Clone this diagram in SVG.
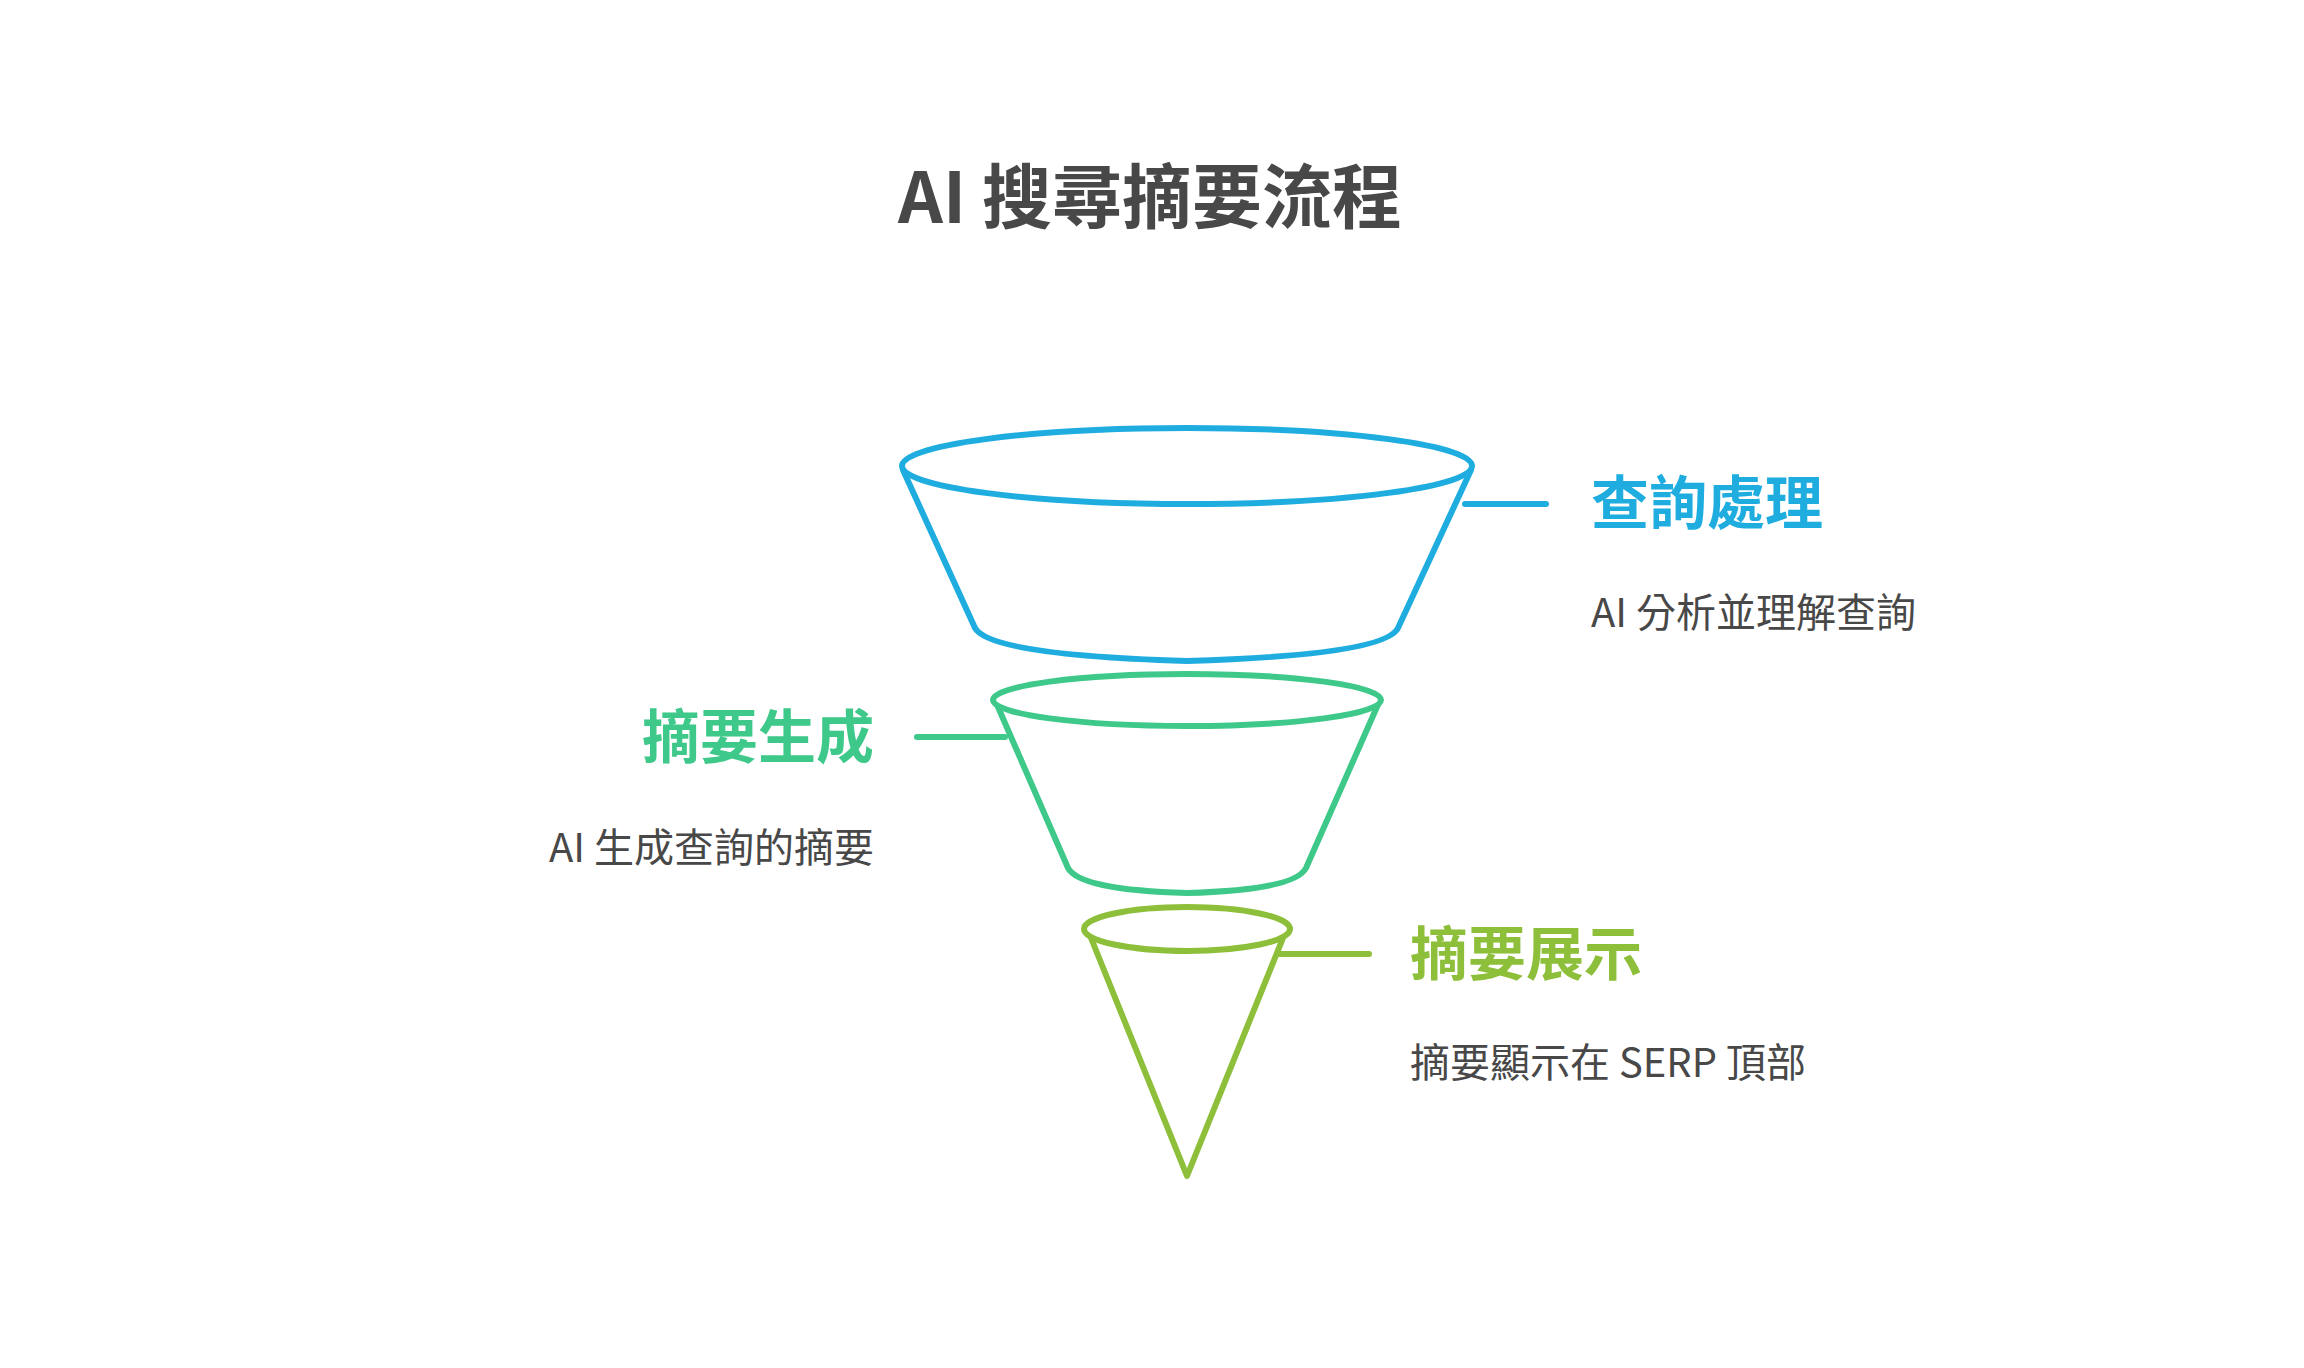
<svg xmlns="http://www.w3.org/2000/svg" width="2304" height="1368" viewBox="0 0 2304 1368">
<style>
text{font-family:"Noto Sans CJK TC","Noto Sans",sans-serif}
.s{stroke-width:6;fill:#fff;stroke-linejoin:round;stroke-linecap:round}
.h{font-size:58px;font-weight:bold}
.d{font-size:40px;fill:#484848}
</style>
<rect width="2304" height="1368" fill="#fff"/>
<text x="1150" y="223" text-anchor="middle" font-size="70" font-weight="bold" fill="#484848">AI 搜尋摘要流程</text>
<g id="connectors">
<line x1="1280" y1="954" x2="1369" y2="954" stroke="#8dbf3a" stroke-width="6" stroke-linecap="round"/>
<line x1="917" y1="737" x2="1005" y2="737" stroke="#3ec98a" stroke-width="6" stroke-linecap="round"/>
<line x1="1465" y1="504" x2="1546" y2="504" stroke="#1fade0" stroke-width="6" stroke-linecap="round"/>
</g>
<g id="stage3">
<path class="s" stroke="#8dbf3a" d="M1087,928 L1187,1176 L1287,928"/>
<ellipse class="s" stroke="#8dbf3a" cx="1187" cy="929" rx="103" ry="22"/>
<text class="h" x="1410" y="975" fill="#8dbf3a">摘要展示</text>
<text class="d" x="1410" y="1077">摘要顯示在 SERP 頂部</text>
</g>
<g id="stage2">
<path class="s" stroke="#3ec98a" d="M995,700 L1068,868 Q1080,890 1187,893 Q1295,890 1306,868 L1380,700"/>
<ellipse class="s" stroke="#3ec98a" cx="1187" cy="700" rx="194" ry="26"/>
<text class="h" x="874" y="758" text-anchor="end" fill="#3ec98a">摘要生成</text>
<text class="d" x="874" y="862" text-anchor="end">AI 生成查詢的摘要</text>
</g>
<g id="stage1">
<path class="s" stroke="#1fade0" d="M903,470 L975,628 Q990,655 1187,661 Q1385,655 1398,628 L1471,470"/>
<ellipse class="s" stroke="#1fade0" cx="1187" cy="466" rx="285" ry="38"/>
<text class="h" x="1591" y="524" fill="#1fade0">查詢處理</text>
<text class="d" x="1591" y="627">AI 分析並理解查詢</text>
</g>
</svg>
